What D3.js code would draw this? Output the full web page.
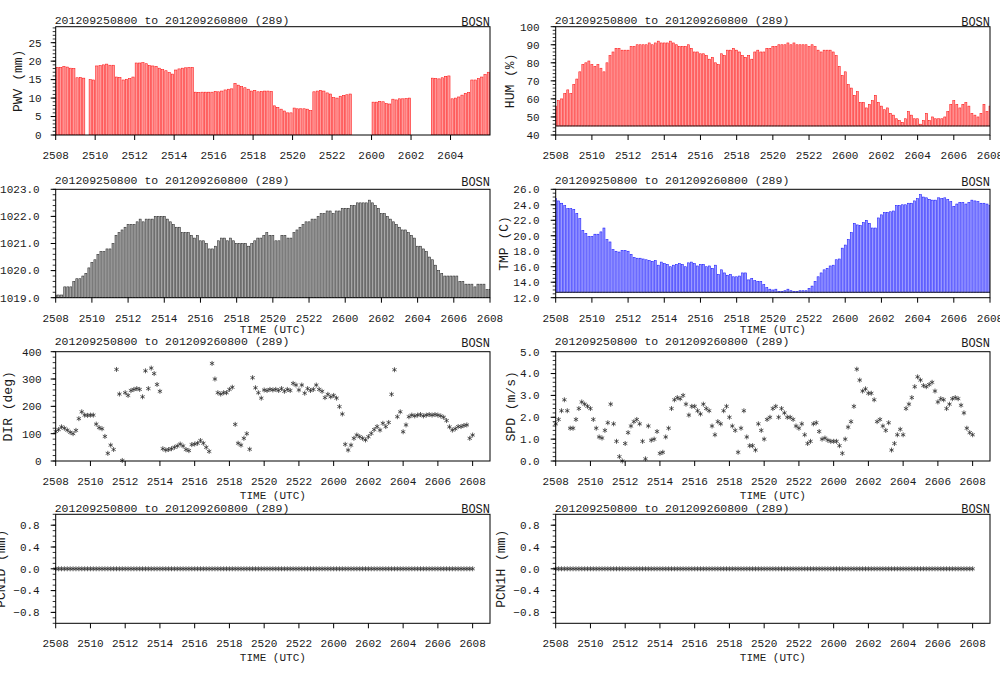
<!DOCTYPE html>
<html><head><meta charset="utf-8">
<script src="https://cdn.jsdelivr.net/npm/d3@7"></script>
<style>body{margin:0;background:#fff}svg{display:block;background:#fff}</style>
</head><body><svg id="c" width="1000" height="673"></svg>
<script>
// ---------------- data (10-minute steps starting 2012-09-25 08:00 UTC) ----------------
const titleText = "201209250800 to 201209260800 (289)";
const stationName = "BOSN";
const xTickLabels = ["2508","2510","2512","2514","2516","2518","2520","2522","2600","2602","2604","2606","2608"];
const xTickHours  = [0,2,4,6,8,10,12,14,16,18,20,22,24];

const pwv = [
 18.3,18.3,18.6,18.4,18.1,18.0, 15.5,15.6,15.4,null,15.0,14.9, 18.7,18.8,19.0,19.2,18.9,18.9,
 15.7,15.6,14.9,15.1,15.3,15.7, 19.5,19.5,19.6,19.3,18.8,18.7, 18.6,18.1,17.7,17.4,16.9,16.5,
 17.6,17.9,18.1,18.2,18.3,18.3, 11.6,11.5,11.6,11.6,11.6,11.6, 11.8,11.7,11.9,12.2,12.4,12.5,
 14.0,13.5,13.1,12.8,12.4,11.9, 12.1,11.7,11.8,11.9,11.9,11.8, 7.9,7.5,7.0,6.5,6.0,6.0,
 7.3,7.1,7.1,7.1,7.0,6.6, 11.7,11.9,12.1,11.9,11.4,11.1, 10.1,10.0,10.5,10.7,10.9,11.1,
 null,null,null,null,null,null, 8.9,8.9,9.1,9.0,8.5,8.4, 9.7,9.5,9.8,9.8,9.9,10.0,
 null,null,null,null,null,null, 15.4,15.3,15.2,15.5,15.9,16.0, 9.8,10.0,10.3,10.8,11.3,11.5,
 14.9,14.9,15.3,15.7,16.4,17.0
];
const hum = [
 56,59,60,63,65,63, 68,71,75,79,80,81, 79,78,79,77,75,80, 84,86,88,88,87,87,
 87,89,89,90,90,90, 90,91,90,91,92,91, 91,91,92,91,90,89, 89,89,90,88,86,86,
 85,85,84,82,83,80, 79,85,84,87,87,88, 87,86,84,83,84,82, 86,87,86,86,88,88,
 89,89,90,90,90,91, 90,91,90,90,90,90, 89,90,89,87,86,87, 87,87,86,84,78,73,
 75,68,66,62,64,58, 58,55,57,59,62,58, 56,54,55,52,51,49, 48,47,49,53,51,49,
 49,46,48,52,48,50, 49,49,49,50,53,57, 59,57,55,57,58,56, 52,51,50,52,57,53,
 56
];
const pres = [
 1019.1,1019.1,1019.1,1019.4,1019.4,1019.4, 1019.6,1019.7,1019.7,1019.8,1019.9,1020.1,
 1020.3,1020.4,1020.6,1020.7,1020.7,1020.8, 1020.8,1021.0,1021.3,1021.4,1021.5,1021.6,
 1021.7,1021.7,1021.7,1021.8,1021.9,1021.8, 1021.9,1021.9,1021.9,1022.0,1022.0,1022.0,
 1022.0,1021.9,1021.8,1021.7,1021.6,1021.6, 1021.4,1021.4,1021.4,1021.3,1021.2,1021.3,
 1021.1,1021.1,1021.0,1020.8,1020.8,1020.9, 1021.1,1021.2,1021.2,1021.1,1021.2,1021.1,
 1021.0,1021.0,1021.0,1021.0,1020.9,1021.0, 1021.1,1021.2,1021.2,1021.3,1021.4,1021.3,
 1021.3,1021.1,1021.1,1021.3,1021.3,1021.2, 1021.2,1021.4,1021.5,1021.6,1021.7,1021.8,
 1021.8,1021.9,1021.9,1022.0,1022.1,1022.1, 1022.2,1022.2,1022.1,1022.2,1022.2,1022.3,
 1022.3,1022.3,1022.4,1022.4,1022.5,1022.5, 1022.5,1022.5,1022.6,1022.5,1022.4,1022.3,
 1022.1,1022.1,1022.0,1021.9,1021.8,1021.7, 1021.6,1021.5,1021.5,1021.4,1021.3,1021.2,
 1020.9,1020.9,1020.8,1020.7,1020.5,1020.4, 1020.2,1020.0,1019.9,1019.8,1019.8,1019.8,
 1019.8,1019.8,1019.6,1019.6,1019.5,1019.5, 1019.5,1019.4,1019.5,1019.5,1019.5,1019.3,
 1019.3
];
const tmp = [
 24.8,24.5,24.2,23.9,23.5,23.5, 23.4,22.9,22.2,20.7,20.3,19.9, 19.9,20.2,20.2,20.5,21.0,19.5,
 19.2,18.2,18.0,17.9,18.1,18.1, 18.0,17.6,17.2,17.1,17.1,17.0, 16.9,16.8,16.7,16.8,16.2,16.6,
 16.4,16.3,16.0,16.2,16.3,16.4, 16.3,16.0,16.5,16.6,16.4,16.1, 16.3,16.3,16.0,16.1,15.8,16.2,
 15.0,15.6,15.2,14.9,15.0,14.7, 14.7,14.8,15.2,15.2,14.3,14.5, 14.2,14.1,14.1,13.7,13.3,13.1,
 13.0,13.1,12.8,12.8,12.9,13.1, 12.9,12.8,12.8,12.9,12.9,12.9, 13.2,13.5,14.1,14.7,15.2,15.6,
 15.8,16.1,16.2,16.9,17.0,18.4, 18.8,19.5,20.4,21.6,21.4,21.3, 21.7,22.0,21.6,21.0,21.0,22.3,
 22.7,23.0,23.0,23.1,23.2,23.9, 23.9,24.0,24.0,24.2,24.2,24.5, 24.8,25.3,25.0,24.9,24.7,24.6,
 24.6,24.9,24.8,24.9,24.7,24.4, 23.8,24.1,24.3,24.3,24.1,24.3, 24.6,24.5,24.4,24.2,24.2,24.1,
 23.9
];
const dir = [
 108,115,125,120,113,105, 100,112,155,180,168,167, 168,168,135,122,118,90,
 28,58,42,335,245,2, 250,240,258,262,265,262, 235,330,265,340,320,280,
 255,45,40,42,45,50, 55,62,55,42,38,60, 62,65,75,65,50,35,
 357,300,250,245,250,250, 262,270,134,65,58,83, 100,43,305,268,250,230,
 260,258,262,260,262,258, 265,255,262,258,284,278, 260,278,248,265,258,262,
 278,262,255,232,244,235, 240,230,199,172,61,40, 58,83,95,89,83,77,
 89,101,115,126,113,138, 126,141,244,334,162,180, 107,132,162,168,165,168,
 170,165,168,170,168,170, 168,165,160,148,125,113, 118,126,126,130,132,83,
 95
];
const spd = [
 1.7,1.9,2.3,2.8,2.3,1.5, 1.5,1.9,2.4,2.7,2.6,2.5, 2.4,1.9,1.5,1.1,1.05,1.4,
 1.75,2.6,1.7,0.9,0.2,0.0, 0.8,1.3,1.6,1.8,1.9,1.7, 0.9,0.1,1.6,0.95,1.0,1.35,
 0.35,0.4,1.1,1.5,2.4,2.8, 2.9,2.85,3.0,2.6,2.1,2.5, 2.5,2.3,2.15,2.6,2.4,2.3,
 1.6,1.2,1.8,1.7,2.3,2.5, 2.0,1.6,1.4,0.4,1.5,2.3, 1.1,0.7,0.7,0.5,1.7,1.4,
 1.0,1.9,2.0,2.4,2.5,2.0, 2.4,2.2,2.0,2.0,1.9,1.6, 1.5,1.7,1.2,0.8,0.9,1.7,
 1.75,1.35,1.0,1.05,0.95,0.9, 0.9,0.9,0.7,0.35,1.0,1.55, 1.8,2.5,4.2,3.7,3.2,3.3,
 3.1,3.1,2.8,1.8,1.9,1.6, 1.4,1.75,0.5,0.8,1.2,1.45, 1.2,2.4,2.6,2.9,3.4,3.85,
 3.7,3.45,3.4,3.5,3.6,3.2, 2.7,2.85,2.8,2.4,2.6,2.85, 2.9,2.85,2.55,2.2,1.5,1.3,
 1.2
];
const pcn1d = [
 0,0,0,0,0,0, 0,0,0,0,0,0, 0,0,0,0,0,0, 0,0,0,0,0,0, 0,0,0,0,0,0, 0,0,0,0,0,0,
 0,0,0,0,0,0, 0,0,0,0,0,0, 0,0,0,0,0,0, 0,0,0,0,0,0, 0,0,0,0,0,0, 0,0,0,0,0,0,
 0,0,0,0,0,0, 0,0,0,0,0,0, 0,0,0,0,0,0, 0,0,0,0,0,0, 0,0,0,0,0,0, 0,0,0,0,0,0,
 0,0,0,0,0,0, 0,0,0,0,0,0, 0,0,0,0,0,0, 0,0,0,0,0,0, 0,0,0,0,0,0, 0,0,0,0,0,0,
 0
];
const pcn1h = [
 0,0,0,0,0,0, 0,0,0,0,0,0, 0,0,0,0,0,0, 0,0,0,0,0,0, 0,0,0,0,0,0, 0,0,0,0,0,0,
 0,0,0,0,0,0, 0,0,0,0,0,0, 0,0,0,0,0,0, 0,0,0,0,0,0, 0,0,0,0,0,0, 0,0,0,0,0,0,
 0,0,0,0,0,0, 0,0,0,0,0,0, 0,0,0,0,0,0, 0,0,0,0,0,0, 0,0,0,0,0,0, 0,0,0,0,0,0,
 0,0,0,0,0,0, 0,0,0,0,0,0, 0,0,0,0,0,0, 0,0,0,0,0,0, 0,0,0,0,0,0, 0,0,0,0,0,0,
 0
];
const pwvTicks = [0,5,10,15,20,25];
const humTicks = [40,50,60,70,80,90,100];
const presTicks = [1019,1020,1021,1022,1023];
const tmpTicks = [12,14,16,18,20,22,24,26];
const dirTicks = [0,100,200,300,400];
const spdTicks = [0,1,2,3,4,5];
const pcnTicks = [-0.8,-0.4,0,0.4,0.8];

// ---------------- layout / drawing ----------------
const FONT = "'Liberation Mono','DejaVu Sans Mono',monospace";
const TXT = '#1a1a1a';
const svg = d3.select('#c');
const defs = svg.append('defs');
const f0 = d3.format('d'), f1 = d3.format('.1f');

const panels = [
 {key:'pwv', data:pwv, kind:'bar', align:'left', left:55.7, top:26.7, w:434.3, h:108.3, xMax:22, nX:11,
  yDom:[0,29.33], yTicks:pwvTicks, yMinor:1, fmt:f0, base:0, fill:'#ff9a9a', stroke:'#ff1010',
  label:'PWV (mm)', labX:22, titleY:24, time:null, gap:14},
 {key:'hum', data:hum, kind:'bar', align:'center', left:555.7, top:26.7, w:434.3, h:108.3, xMax:24, nX:13,
  yDom:[40,100], yTicks:humTicks, yMinor:2, fmt:f0, base:45, baseLine:true, fill:'#ff9a9a', stroke:'#ff1010',
  label:'HUM (%)', labX:514, titleY:24, time:null, gap:16},
 {key:'pres', data:pres, kind:'bar', align:'center', left:55.7, top:189.3, w:434.3, h:108.4, xMax:24, nX:13,
  yDom:[1019,1023], yTicks:presTicks, yMinor:0.2, fmt:f1, base:1019, fill:'#a6a6a6', stroke:'#262626',
  label:null, titleY:184, time:333, gap:16},
 {key:'tmp', data:tmp, kind:'bar', align:'center', left:555.7, top:189.3, w:434.3, h:108.4, xMax:24, nX:13,
  yDom:[12,26], yTicks:tmpTicks, yMinor:0.5, fmt:f1, base:12.7, baseLine:true, fill:'#9a9aff', stroke:'#1414ff',
  label:'TMP (C)', labX:508, titleY:184, time:333, gap:16},
 {key:'dir', data:dir, kind:'star', left:55.7, top:351.7, w:434.3, h:109.3, xMax:25, nX:13,
  yDom:[0,400], yTicks:dirTicks, yMinor:20, fmt:f0, label:'DIR (deg)', labX:12, titleY:345, time:499, gap:14},
 {key:'spd', data:spd, kind:'star', left:555.7, top:351.7, w:434.3, h:109.3, xMax:25, nX:13,
  yDom:[0,5], yTicks:spdTicks, yMinor:0.2, fmt:f1, label:'SPD (m/s)', labX:515, titleY:345, time:499, gap:16},
 {key:'pcn1d', data:pcn1d, kind:'star', left:55.7, top:514.3, w:434.3, h:109, xMax:25, nX:13,
  yDom:[-1,1], yTicks:pcnTicks, yMinor:0.1, fmt:f1, label:'PCN1D (mm)', labX:5, titleY:511.5, time:661, gap:16},
 {key:'pcn1h', data:pcn1h, kind:'star', left:555.7, top:514.3, w:434.3, h:109, xMax:25, nX:13,
  yDom:[-1,1], yTicks:pcnTicks, yMinor:0.1, fmt:f1, label:'PCN1H (mm)', labX:505, titleY:511.5, time:661, gap:16}
];

function star(cx, cy, r){
  const a = r*Math.cos(Math.PI/6), b = r*Math.sin(Math.PI/6);
  return `M${cx},${cy-r}L${cx},${cy+r}M${cx-a},${cy-b}L${cx+a},${cy+b}M${cx-a},${cy+b}L${cx+a},${cy-b}`;
}

panels.forEach(p => {
  const g = svg.append('g');
  const x = d3.scaleLinear().domain([0, p.xMax]).range([p.left, p.left + p.w]);
  const y = d3.scaleLinear().domain(p.yDom).range([p.top + p.h, p.top]);
  const step = 1/6;
  const pts = p.data.map((v,i)=>({v, t:i*step})).filter(d => d.v !== null);

  defs.append('clipPath').attr('id','cl-'+p.key).append('rect')
    .attr('x', p.left).attr('y', p.top).attr('width', p.w).attr('height', p.h);

  if (p.kind === 'bar') {
    const plot = g.append('g').attr('clip-path', `url(#cl-${p.key})`);
    const bw = x(step) - x(0);
    const off = p.align === 'left' ? 0 : -bw/2;
    plot.selectAll('rect').data(pts).join('rect')
      .attr('x', d => x(d.t) + off + 0.5)
      .attr('width', bw - 1.0)
      .attr('y', d => y(d.v))
      .attr('height', d => Math.max(0, y(p.base) - y(d.v)))
      .attr('fill', p.fill).attr('stroke', p.stroke).attr('stroke-width', 0.55);
    if (p.baseLine) {
      plot.append('line').attr('x1', p.left).attr('x2', p.left + p.w)
        .attr('y1', y(p.base)).attr('y2', y(p.base)).attr('stroke', '#222').attr('stroke-width', 1);
    }
  } else {
    g.append('path')
      .attr('d', pts.map(d => star(x(d.t), y(d.v), 2.5)).join(''))
      .attr('fill','none').attr('stroke','#2a2a2a').attr('stroke-width',0.75);
  }

  // frame
  g.append('rect').attr('x', p.left).attr('y', p.top).attr('width', p.w).attr('height', p.h)
    .attr('fill','none').attr('stroke','#000').attr('stroke-width',1);

  // y ticks (minor + major) and labels
  const [y0, y1] = p.yDom;
  const minors = d3.range(Math.ceil(y0/p.yMinor - 1e-6), Math.floor(y1/p.yMinor + 1e-6) + 1).map(k => k*p.yMinor);
  g.append('path').attr('d', minors.map(v => `M${p.left-3},${y(v)}H${p.left}`).join(''))
    .attr('stroke','#000').attr('stroke-width',0.8);
  g.append('path').attr('d', p.yTicks.map(v => `M${p.left-5},${y(v)}H${p.left}`).join(''))
    .attr('stroke','#000').attr('stroke-width',1);
  g.selectAll('text.yt').data(p.yTicks).join('text')
    .attr('x', p.left - p.gap).attr('y', d => y(d)).attr('dy','0.35em')
    .attr('text-anchor','end').attr('font-family',FONT).attr('font-size',11).attr('fill',TXT)
    .text(d => p.fmt(d));

  // x ticks and labels
  const xt = xTickHours.slice(0, p.nX);
  const bottom = p.top + p.h;
  g.append('path').attr('d', xt.map(h => `M${x(h)},${bottom}V${bottom+5}`).join(''))
    .attr('stroke','#000').attr('stroke-width',1);
  g.selectAll('text.xt').data(xt).join('text')
    .attr('x', h => x(h)).attr('y', bottom + 24)
    .attr('text-anchor','middle').attr('font-family',FONT).attr('font-size',11).attr('fill',TXT)
    .text((h,i) => xTickLabels[i]);

  // titles
  g.append('text').attr('x', p.left - 1).attr('y', p.titleY)
    .attr('font-family',FONT).attr('font-size',11.5).attr('fill',TXT).text(titleText);
  g.append('text').attr('x', p.left + p.w).attr('y', p.titleY + 1.5).attr('text-anchor','end')
    .attr('font-family',FONT).attr('font-size',12).attr('fill',TXT).text(stationName);

  if (p.label) {
    const cy = p.top + p.h/2;
    g.append('text').attr('x', p.labX).attr('y', cy)
      .attr('transform', `rotate(-90,${p.labX},${cy})`).attr('text-anchor','middle')
      .attr('font-family',FONT).attr('font-size',13).attr('fill',TXT).text(p.label);
  }
  if (p.time) {
    g.append('text').attr('x', p.left + p.w/2).attr('y', p.time).attr('text-anchor','middle')
      .attr('font-family',FONT).attr('font-size',11).attr('fill',TXT).text('TIME (UTC)');
  }
});
</script></body></html>
